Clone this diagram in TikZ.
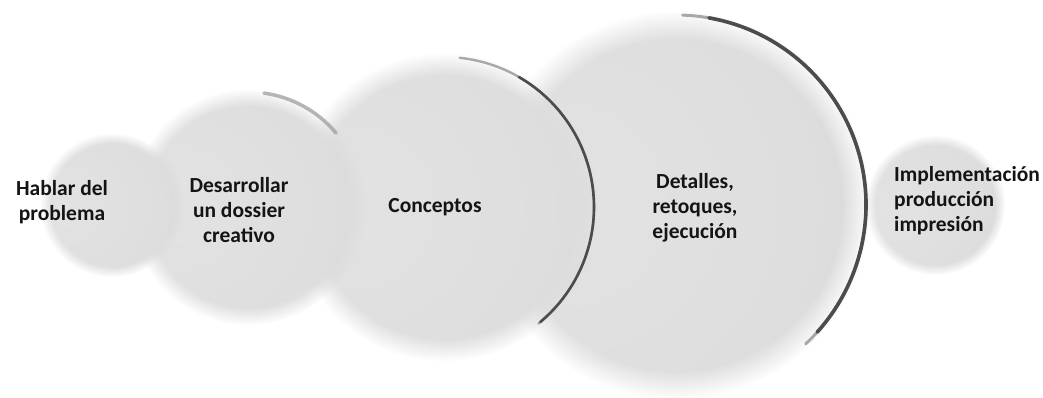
\documentclass[tikz,border=0pt]{standalone}
\usepackage{fontspec}
\setmainfont{Carlito}
\usetikzlibrary{fadings}
\pgfdeclareradialshading{orb}{\pgfpoint{-18bp}{0bp}}{color(0bp)=(black!11); color(28bp)=(black!13); color(45bp)=(black!17); color(58bp)=(black!29); color(68bp)=(black!24)}
\begin{document}
\begin{tikzpicture}[x=1pt,y=1pt,
  orbfill/.style={shading=orb, path fading=circle with fuzzy edge 15 percent},
  rimlight/.style={draw=black!42, line width=3pt, line cap=round, opacity=0.8},
  rimdark/.style={draw=black!70, line width=2.6pt, line cap=round},
  lbl/.style={font=\bfseries\fontsize{21.5}{25}\selectfont, text=black!92, align=center, inner sep=0pt}]
\useasboundingbox (0,0) rectangle (1043,398);
\fill[white] (0,0) rectangle (1043,398);
\coordinate (c1) at (112,193);
\coordinate (c2) at (248,191);
\coordinate (c3) at (444,191);
\coordinate (c4) at (676,193);
\coordinate (c5) at (935,193);
% circle 5 (behind)
\shade[orbfill] (c5) circle (70);
% circle 4
\shade[orbfill] (c4) circle (194);
\draw[rimlight] ([shift={(88:190)}]c4) arc[start angle=88, end angle=-47, radius=190];
\draw[rimdark, line width=3.6pt] ([shift={(80:190)}]c4) arc[start angle=80, end angle=-42, radius=190];
% circle 3
\shade[orbfill] (c3) circle (154);
\draw[rimlight, line width=2.4pt] ([shift={(84:150)}]c3) arc[start angle=84, end angle=-51, radius=150];
\draw[rimdark] ([shift={(60:150)}]c3) arc[start angle=60, end angle=-50, radius=150];
% circle 2
\shade[orbfill] (c2) circle (118);
\draw[rimlight, draw=black!38, line width=3.5pt, opacity=0.75] ([shift={(82:115)}]c2) arc[start angle=82, end angle=40, radius=115];
% circle 1 (front)
\shade[orbfill] (c1) circle (72);
% labels
\node[lbl] (t1) at (62,196) {Hablar del\\problema};
\node[lbl] (t2) at (239,188) {Desarrollar\\un dossier\\creativo};
\node[lbl] (t3) at (435,191) {Conceptos};
\node[lbl] (t4) at (695,190) {Detalles,\\retoques,\\ejecución};
\node[lbl, align=left, anchor=west] (t5) at (894,197) {Implementación\\producción\\impresión};
\end{tikzpicture}
\end{document}
